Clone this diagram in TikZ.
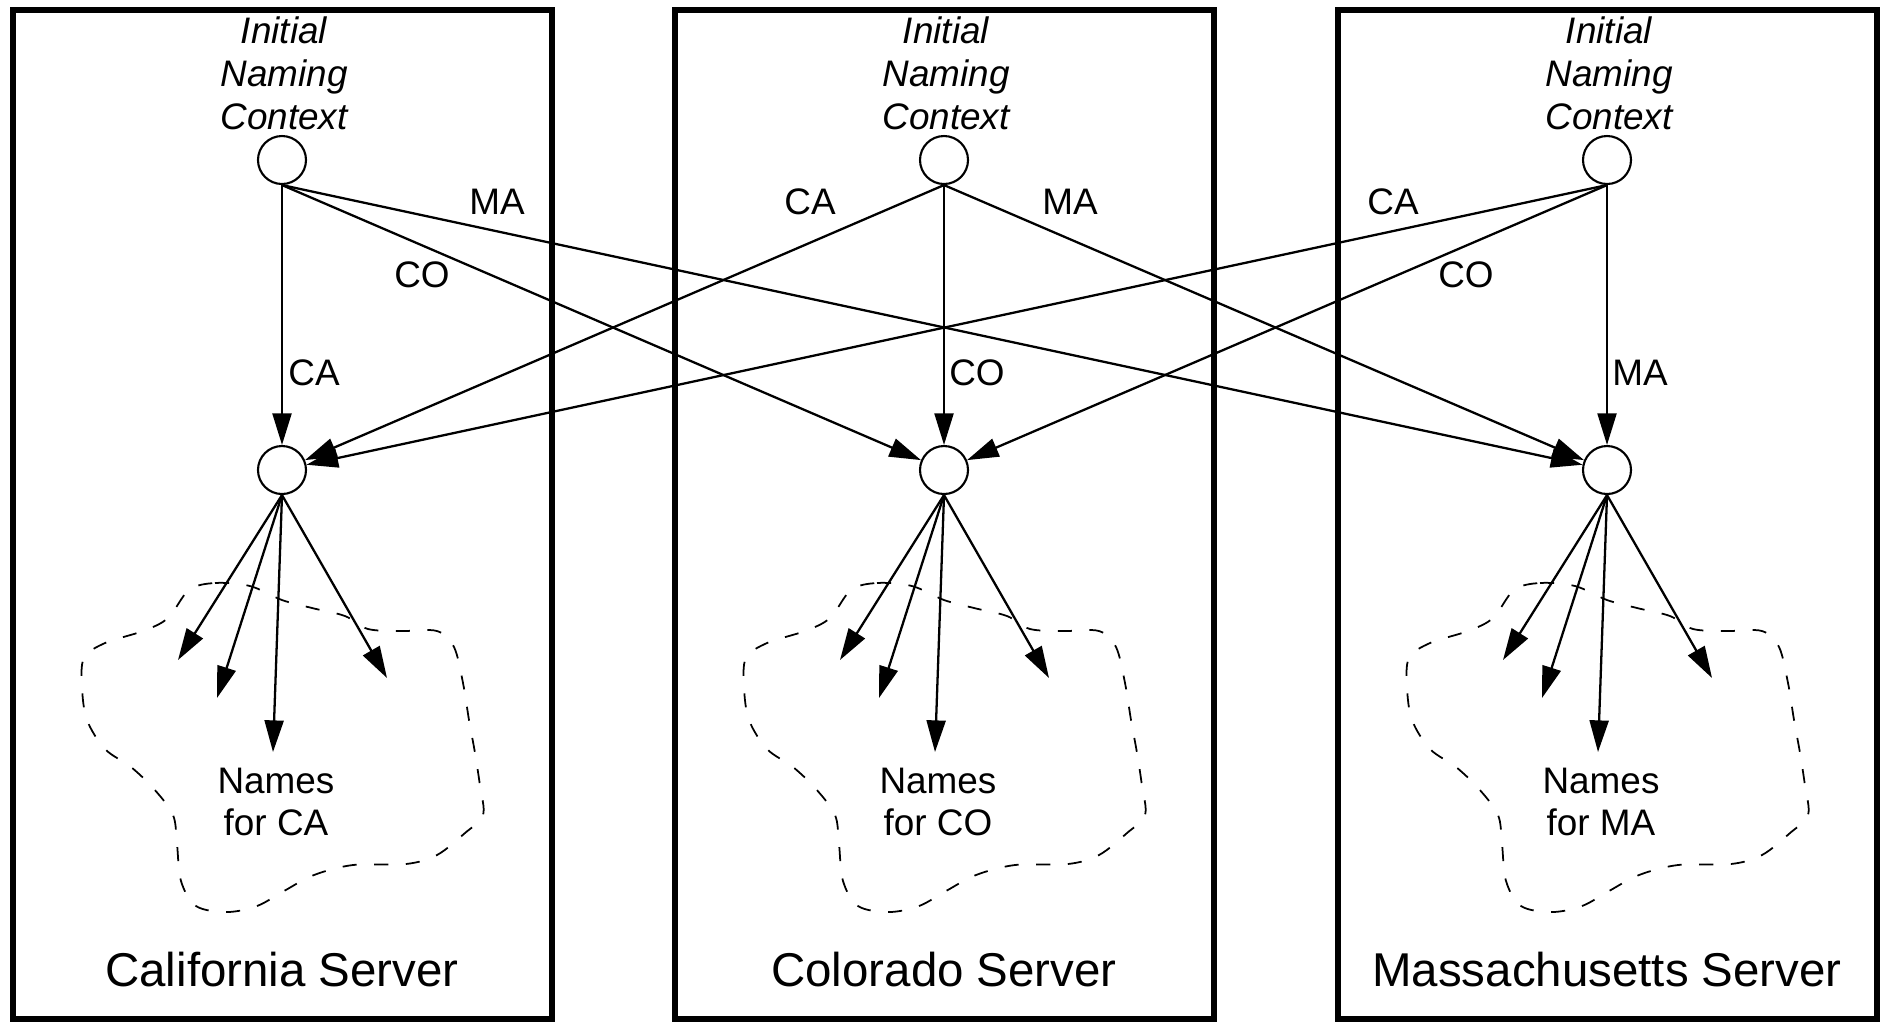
\documentclass[tikz,border=0pt]{standalone}
\usepackage{fontspec}
\setmainfont{Liberation Sans}
\usetikzlibrary{arrows.meta,positioning}

\tikzset{
  serverbox/.style={line width=1.6pt},
  ctx/.style={circle, draw, line width=0.6pt, minimum size=4.8mm, inner sep=0pt},
  link/.style={line width=0.65pt, -{Triangle[length=9pt,width=5.4pt]}},
  nameset/.style={line width=0.5pt, dash pattern=on 4pt off 5pt},
  tag/.style={font=\fontsize{10.5}{12.2}\selectfont, inner sep=1pt},
  names/.style={tag, align=center},
  ctxlabel/.style={align=center, inner sep=1pt, font=\fontsize{10.5}{12.2}\selectfont\itshape},
  srvname/.style={font=\fontsize{13.5}{16}\selectfont},
}

\begin{document}
\begin{tikzpicture}[x=0.1mm, y=-0.1mm]
\useasboundingbox (0,0) rectangle (1881,1023);

\foreach \s/\cx/\state/\ab in {A/282/California/CA, B/944/Colorado/CO, C/1607/Massachusetts/MA} {
  % server frame
  \draw[serverbox] ({\cx-269},10) rectangle ({\cx+270},1019);
  \node[srvname] (\s-title) at (\cx,970) {\state\ Server};
  \node[ctxlabel] (\s-init) at ({\cx+2},73) {Initial\\Naming\\Context};
  \node[ctx] (\s1) at (\cx,160) {};
  \node[ctx] (\s2) at (\cx,470) {};
  % names held by this server
  \draw[nameset, shift={(\cx,470)}] plot[smooth cycle, tension=0.55] coordinates {
    (-93,120) (-67,113) (-32,116) (0,130) (30,138) (63,146) (86,159) (120,161)
    (155,161) (172,177) (181,213) (187,250) (193,283) (198,316) (201,345)
    (183,363) (155,385) (124,394) (71,395) (32,405) (2,421) (-25,436)
    (-55,442) (-86,436) (-101,411) (-105,374) (-109,345) (-128,319)
    (-151,297) (-177,279) (-195,250) (-200,217) (-198,188) (-177,173)
    (-139,161) (-114,148)};
  \node[names] (\s-names) at ({\cx-6},802) {Names\\for \ab};
  \coordinate (\s-n1) at ({\cx-104},660);
  \coordinate (\s-n2) at ({\cx-65},698);
  \coordinate (\s-n3) at ({\cx-9},752);
  \coordinate (\s-n4) at ({\cx+105},678);
  \foreach \k in {1,...,4}
    \draw[link] (\s2.south) -- (\s-n\k);
}

% bindings from each initial context
\draw[link] (A1) -- (A2);
\draw[link] (A1.south) -- (B2);
\draw[link] (A1.south) -- (C2);
\draw[link] (B1.south) -- (A2);
\draw[link] (B1) -- (B2);
\draw[link] (B1.south) -- (C2);
\draw[link] (C1.south) -- (A2);
\draw[link] (C1.south) -- (B2);
\draw[link] (C1) -- (C2);

\node[tag] (A-ma) at (497,202) {MA};
\node[tag] (A-co) at (422,275) {CO};
\node[tag] (A-ca) at (314,373) {CA};
\node[tag] (B-ca) at (810,202) {CA};
\node[tag] (B-ma) at (1070,202) {MA};
\node[tag] (B-co) at (977,373) {CO};
\node[tag] (C-ca) at (1393,202) {CA};
\node[tag] (C-co) at (1466,275) {CO};
\node[tag] (C-ma) at (1640,373) {MA};
\end{tikzpicture}
\end{document}
